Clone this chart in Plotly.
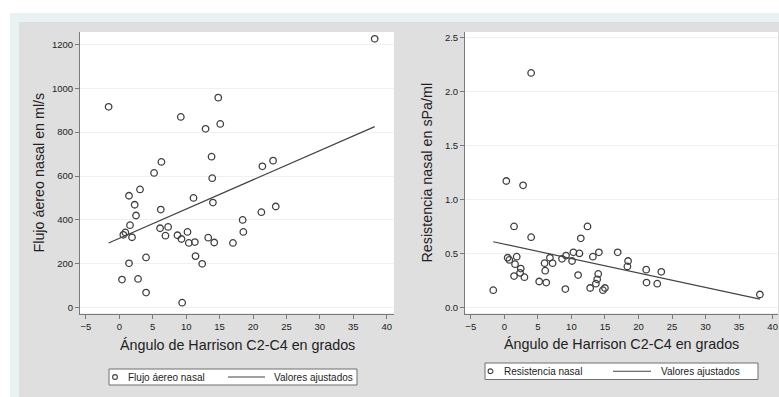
import plotly.graph_objects as go

# ---------------- data ----------------
angulo_flujo = [38.2, -1.6, 14.8, 9.2, 12.9, 15.1, 13.8, 21.4, 23.0, 6.3,
                5.2, 13.9, 3.1, 1.45, 11.1, 2.3, 2.5, 6.2, 14.0, 1.6,
                0.9, 0.6, 1.9, 6.1, 7.3, 6.9, 8.7, 10.2, 9.3, 10.4,
                11.3, 13.3, 14.2, 17.0, 18.45, 18.55, 21.25, 23.4, 1.45, 4.0,
                11.4, 12.4, 0.4, 2.8, 4.0, 9.4]
flujo = [1225, 915, 957, 869, 815, 837, 688, 644, 670, 664,
         614, 590, 539, 510, 500, 469, 420, 447, 479, 376,
         343, 332, 321, 362, 368, 328, 330, 345, 313, 295,
         299, 319, 297, 295, 400, 345, 435, 461, 202, 229,
         235, 200, 128, 131, 69, 23]
fit_flujo_x = [-1.6, 38.2]
fit_flujo_y = [295, 825]

angulo_res = [4.0, 0.3, 2.8, 1.45, 4.0, 12.4, 11.4, -1.65, 0.5, 0.75,
              1.85, 1.6, 2.45, 2.35, 1.45, 3.0, 5.2, 6.25, 6.0, 6.1,
              6.8, 7.2, 8.6, 9.2, 9.1, 10.1, 10.3, 11.2, 11.0, 13.2,
              14.1, 14.0, 13.85, 13.65, 12.8, 14.7, 15.0, 16.9, 18.45, 18.35,
              21.15, 21.2, 22.8, 23.4, 38.1]
resistencia = [2.17, 1.17, 1.13, 0.75, 0.65, 0.75, 0.64, 0.16, 0.46, 0.44,
               0.47, 0.40, 0.36, 0.32, 0.29, 0.28, 0.24, 0.23, 0.41, 0.34,
               0.46, 0.41, 0.45, 0.48, 0.17, 0.43, 0.51, 0.50, 0.30, 0.47,
               0.51, 0.31, 0.26, 0.22, 0.18, 0.16, 0.18, 0.51, 0.43, 0.38,
               0.35, 0.23, 0.22, 0.33, 0.12]
fit_res_x = [-1.65, 38.1]
fit_res_y = [0.608, 0.077]

x_ticks = [-5, 0, 5, 10, 15, 20, 25, 30, 35, 40]
flujo_ticks = [0, 200, 400, 600, 800, 1000, 1200]
res_ticks = [0.0, 0.5, 1.0, 1.5, 2.0, 2.5]
res_tick_labels = ["0.0", "0.5", "1.0", "1.5", "2.0", "2.5"]

x_title = "Ángulo de Harrison C2-C4 en grados"
y_title_1 = "Flujo áereo nasal en ml/s"
y_title_2 = "Resistencia nasal en sPa/ml"
leg_1 = ["Flujo áereo nasal", "Valores ajustados"]
leg_2 = ["Resistencia nasal", "Valores ajustados"]

# ---------------- layout helpers ----------------
W, H = 779, 397
FONT = "Liberation Sans, Arial, sans-serif"
MARK = "#404040"
AXC = "#7a7a7a"
GRID = "#eaf2f3"


def px(x):
    return x / W


def py(y):
    return 1 - y / H


fig = go.Figure()

marker_style = dict(symbol="circle-open", size=6.5, color=MARK, line=dict(width=1.3, color=MARK))
fig.add_trace(go.Scatter(x=angulo_flujo, y=flujo, mode="markers", marker=marker_style,
                         name=leg_1[0], xaxis="x", yaxis="y", showlegend=False))
fig.add_trace(go.Scatter(x=fit_flujo_x, y=fit_flujo_y, mode="lines",
                         line=dict(color="#444444", width=1.2),
                         name=leg_1[1], xaxis="x", yaxis="y", showlegend=False))
fig.add_trace(go.Scatter(x=angulo_res, y=resistencia, mode="markers", marker=marker_style,
                         name=leg_2[0], xaxis="x2", yaxis="y2", showlegend=False))
fig.add_trace(go.Scatter(x=fit_res_x, y=fit_res_y, mode="lines",
                         line=dict(color="#444444", width=1.2),
                         name=leg_2[1], xaxis="x2", yaxis="y2", showlegend=False))

tickfont = dict(family=FONT, size=9.5, color="#222222")
common_x = dict(tickmode="array", tickvals=x_ticks, ticks="outside", ticklen=4, tickcolor=AXC,
                showline=True, linecolor=AXC, linewidth=1, showgrid=False, zeroline=False,
                tickfont=tickfont)
common_y = dict(ticks="outside", ticklen=4, tickcolor=AXC, showline=True, linecolor=AXC,
                linewidth=1, showgrid=True, gridcolor=GRID, gridwidth=1, zeroline=False,
                tickfont=tickfont, tickmode="array")

y_dom = [py(313.5), py(32)]
fig.update_layout(
    width=W, height=H,
    margin=dict(l=0, r=0, t=0, b=0),
    paper_bgcolor="#dfdfdf",
    plot_bgcolor="white",
    font=dict(family=FONT, color="#222222"),
    xaxis=dict(domain=[px(80), px(394)], range=[-5.88, 41.09], anchor="y", **common_x),
    yaxis=dict(domain=y_dom, range=[-26.4, 1256], anchor="x", tickvals=flujo_ticks, **common_y),
    xaxis2=dict(domain=[px(465), px(778)], range=[-5.86, 40.8], anchor="y2", **common_x),
    yaxis2=dict(domain=y_dom, range=[-0.056, 2.549], anchor="x2", tickvals=res_ticks,
                ticktext=res_tick_labels, **common_y),
    showlegend=False,
)

shapes = []
# outer frame bands (white top strip, light blue border) - drawn outside the plot areas
shapes.append(dict(type="rect", xref="paper", yref="paper", x0=0, x1=1, y0=py(0), y1=py(13),
                   fillcolor="white", line=dict(width=0), layer="below"))
shapes.append(dict(type="rect", xref="paper", yref="paper", x0=0, x1=px(10), y0=py(H), y1=py(13),
                   fillcolor="white", line=dict(width=0), layer="below"))
shapes.append(dict(type="rect", xref="paper", yref="paper", x0=px(10), x1=1, y0=py(22), y1=py(13),
                   fillcolor="#e9f1f2", line=dict(width=0), layer="below"))
shapes.append(dict(type="rect", xref="paper", yref="paper", x0=px(10), x1=px(19), y0=py(H), y1=py(22),
                   fillcolor="#e9f1f2", line=dict(width=0), layer="below"))

annotations = []


def legend_box(x0, x1, y0, y1, mx, t1x, lx0, lx1, t2x, texts):
    yc = (y0 + y1) / 2
    shapes.append(dict(type="rect", xref="paper", yref="paper", x0=px(x0), x1=px(x1),
                       y0=py(y1), y1=py(y0), fillcolor="white",
                       line=dict(color="#6e6e6e", width=1)))
    r = 2.4
    shapes.append(dict(type="circle", xref="paper", yref="paper", x0=px(mx - r), x1=px(mx + r),
                       y0=py(yc + r), y1=py(yc - r), line=dict(color=MARK, width=1.1)))
    shapes.append(dict(type="line", xref="paper", yref="paper", x0=px(lx0), x1=px(lx1),
                       y0=py(yc), y1=py(yc), line=dict(color="#444444", width=1.1)))
    for tx, tt in zip([t1x, t2x], texts):
        annotations.append(dict(x=px(tx), y=py(yc), xref="paper", yref="paper", text=tt,
                                showarrow=False, xanchor="left", yanchor="middle", borderpad=0,
                                font=dict(family=FONT, size=10, color="#222222")))


legend_box(109, 357, 369, 385, 115, 126.5, 228, 265, 272.5, leg_1)
legend_box(485, 758, 363, 379.5, 490.5, 502.5, 613, 651, 659.5, leg_2)

title_font = dict(family=FONT, size=14.3, color="#222222")
annotations.append(dict(x=px(237), y=py(345), xref="paper", yref="paper", text=x_title,
                        showarrow=False, xanchor="center", yanchor="middle", font=title_font))
annotations.append(dict(x=px(621.5), y=py(344), xref="paper", yref="paper", text=x_title,
                        showarrow=False, xanchor="center", yanchor="middle", font=title_font))
annotations.append(dict(x=px(38.5), y=py(173), xref="paper", yref="paper", text=y_title_1,
                        showarrow=False, xanchor="center", yanchor="middle", textangle=-90,
                        font=title_font))
annotations.append(dict(x=px(426.5), y=py(173), xref="paper", yref="paper", text=y_title_2,
                        showarrow=False, xanchor="center", yanchor="middle", textangle=-90,
                        font=title_font))

fig.update_layout(shapes=shapes, annotations=annotations)
fig.write_html("out.html")
